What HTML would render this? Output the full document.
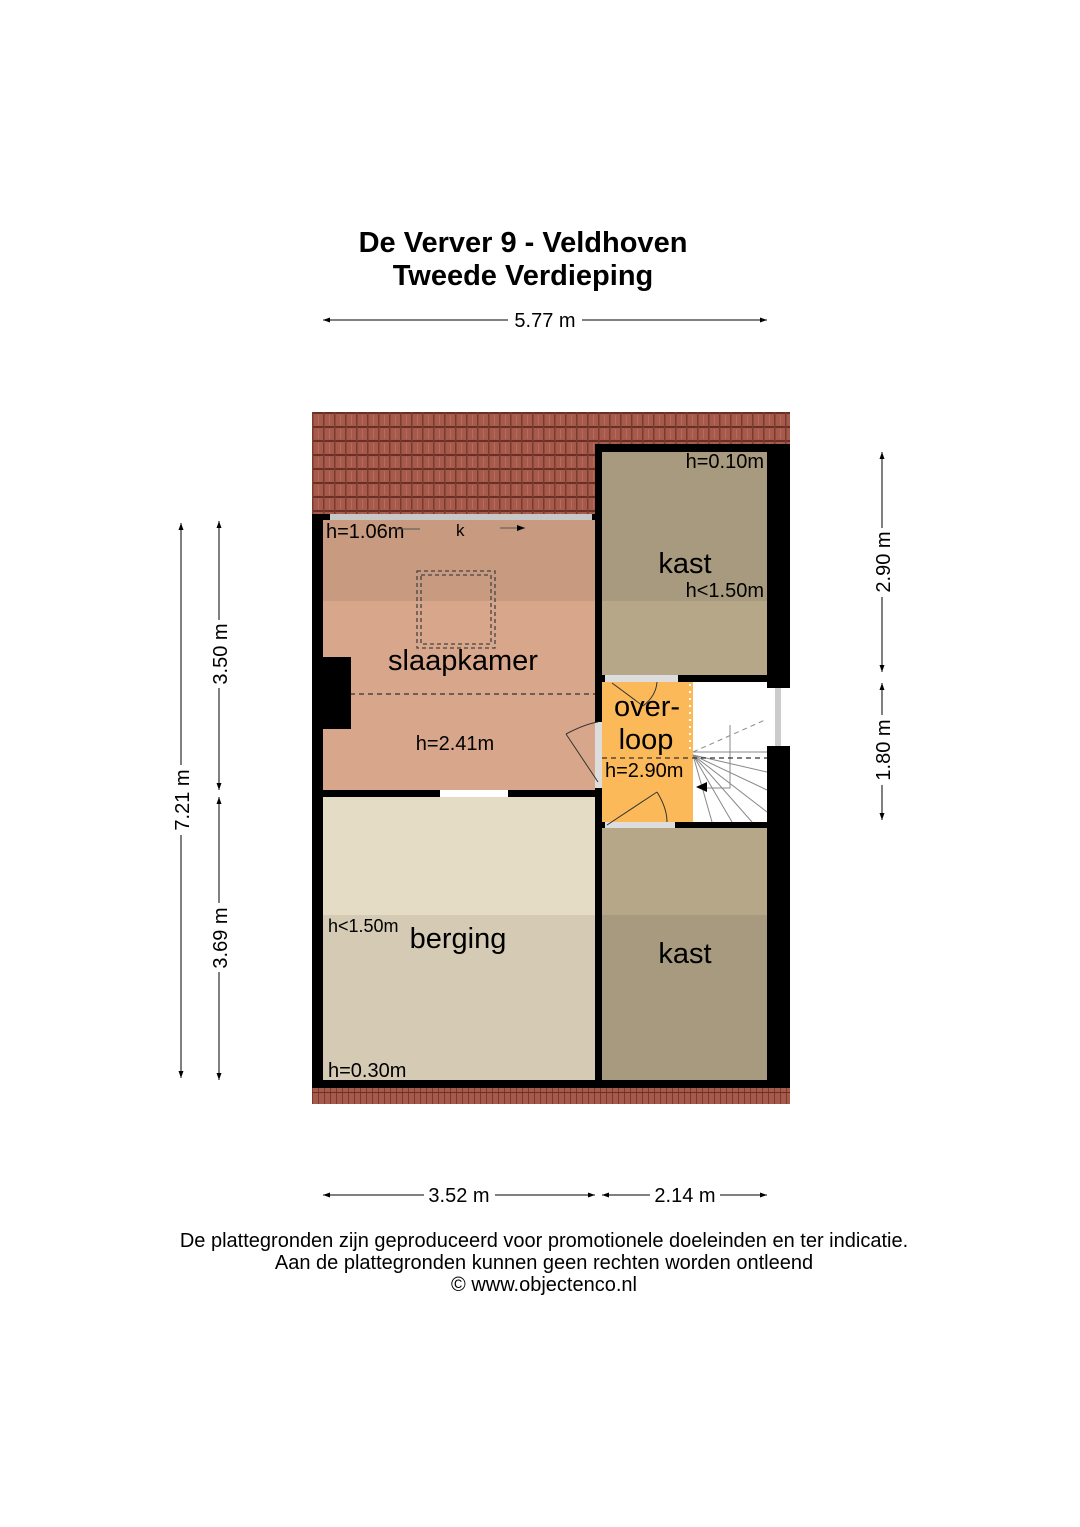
<!DOCTYPE html>
<html><head><meta charset="utf-8"><style>
html,body{margin:0;padding:0;background:#fff;}
svg{display:block;}
text{font-family:"Liberation Sans",sans-serif;}
</style></head><body>
<svg width="1080" height="1527" viewBox="0 0 1080 1527" xmlns="http://www.w3.org/2000/svg">
<defs>
<pattern id="tile" x="312" y="412" width="11" height="14" patternUnits="userSpaceOnUse">
<rect width="11" height="14" fill="#a65a4b"/>
<rect x="0" y="0" width="11" height="2" fill="#6a3025"/>
<rect x="0" y="0" width="1.5" height="14" fill="#7a3a2e"/>
<rect x="6" y="3" width="1" height="10" fill="#b86b5a"/>
</pattern>
<pattern id="tile2" x="312" y="1088" width="6" height="16" patternUnits="userSpaceOnUse">
<rect width="6" height="16" fill="#a65a4b"/>
<rect x="0" y="0" width="1" height="16" fill="#7a3a2e"/>
<rect x="0" y="4" width="6" height="1" fill="#6a3025"/>
</pattern>
<marker id="ar" markerWidth="8" markerHeight="6" refX="8" refY="3" orient="auto"><path d="M0,0 L8,3 L0,6z" fill="#000"/></marker>
</defs>

<text x="523" y="252" font-size="29" font-weight="bold" text-anchor="middle">De Verver 9 - Veldhoven</text>
<text x="523" y="285" font-size="29" font-weight="bold" text-anchor="middle">Tweede Verdieping</text>

<rect x="312" y="412" width="478" height="104" fill="url(#tile)"/>
<rect x="312" y="1088" width="478" height="16" fill="url(#tile2)"/>

<rect x="312" y="514" width="284" height="574" fill="#000"/>
<rect x="595" y="444" width="195" height="644" fill="#000"/>

<rect x="323" y="520" width="272" height="81" fill="#c89a7f"/>
<rect x="323" y="601" width="272" height="189" fill="#d8a78b"/>
<rect x="330" y="514" width="262" height="6" fill="#c8c8c8"/>
<line x1="323" y1="694" x2="595" y2="694" stroke="#333" stroke-width="1.3" stroke-dasharray="5,4"/>
<rect x="323" y="657" width="28" height="72" fill="#000"/>
<rect x="417" y="571" width="78" height="77" fill="none" stroke="#444" stroke-width="1.3" stroke-dasharray="4,3"/>
<rect x="421" y="575" width="70" height="69" fill="none" stroke="#444" stroke-width="1.3" stroke-dasharray="4,3"/>
<text x="326" y="538" font-size="20">h=1.06m</text>
<line x1="395" y1="529" x2="420" y2="529" stroke="#555" stroke-width="1"/>
<text x="456" y="536" font-size="17">k</text>
<line x1="500" y1="528" x2="525" y2="528" stroke="#555" stroke-width="1" marker-end="url(#ar)"/>
<text x="463" y="670" font-size="29" text-anchor="middle">slaapkamer</text>
<text x="455" y="750" font-size="20" text-anchor="middle">h=2.41m</text>
<rect x="595" y="722" width="7" height="66" fill="#ddd"/>
<path d="M598,782 L566,734" fill="none" stroke="#333" stroke-width="1"/>
<path d="M566,734 Q585,724 598,722" fill="none" stroke="#333" stroke-width="1"/>
<rect x="440" y="790" width="68" height="7" fill="#fff"/>

<rect x="323" y="797" width="272" height="118" fill="#e5dcc5"/>
<rect x="323" y="915" width="272" height="165" fill="#d5cbb4"/>
<text x="328" y="932" font-size="18">h&lt;1.50m</text>
<text x="458" y="948" font-size="29" text-anchor="middle">berging</text>
<text x="328" y="1077" font-size="20">h=0.30m</text>

<rect x="602" y="452" width="165" height="149" fill="#a89a7e"/>
<rect x="602" y="601" width="165" height="74" fill="#b6a788"/>
<text x="764" y="468" font-size="20" text-anchor="end">h=0.10m</text>
<text x="685" y="573" font-size="29" text-anchor="middle">kast</text>
<text x="764" y="597" font-size="20" text-anchor="end">h&lt;1.50m</text>

<rect x="602" y="682" width="91" height="140" fill="#fbb95a"/>
<rect x="693" y="682" width="74" height="140" fill="#fff"/>
<rect x="767" y="688" width="23" height="58" fill="#fff"/>
<rect x="775" y="688" width="6" height="58" fill="#ccc"/>
<rect x="605" y="675" width="73" height="7" fill="#ddd"/>
<path d="M612,683 L643,706" fill="none" stroke="#333" stroke-width="1"/>
<path d="M643,706 Q656,696 657,682" fill="none" stroke="#333" stroke-width="1"/>
<rect x="605" y="822" width="70" height="6" fill="#ddd"/>
<path d="M607,825 L657,792" fill="none" stroke="#333" stroke-width="1"/>
<path d="M657,792 Q667,808 667,822" fill="none" stroke="#333" stroke-width="1"/>
<line x1="690" y1="684" x2="690" y2="752" stroke="#fff" stroke-width="2" stroke-dasharray="2,5"/>
<g stroke="#888" stroke-width="1" fill="none">
<line x1="693" y1="752" x2="767" y2="752"/>
<line x1="693" y1="752" x2="765" y2="720" stroke-dasharray="5,4"/>
<path d="M730,725 L730,788 L700,788"/>
<line x1="693" y1="755" x2="767" y2="790"/>
<line x1="693" y1="755" x2="767" y2="812"/>
<line x1="693" y1="755" x2="752" y2="822"/>
<line x1="693" y1="755" x2="732" y2="822"/>
<line x1="693" y1="755" x2="712" y2="822"/>
<line x1="693" y1="755" x2="767" y2="772"/>
</g>
<path d="M696,787 L707,782 L707,792z" fill="#000"/>
<line x1="602" y1="758" x2="767" y2="758" stroke="#333" stroke-width="1.3" stroke-dasharray="5,4"/>
<text x="647" y="716" font-size="29" text-anchor="middle">over-</text>
<text x="646" y="749" font-size="29" text-anchor="middle">loop</text>
<text x="605" y="777" font-size="20">h=2.90m</text>

<rect x="602" y="828" width="165" height="87" fill="#b6a788"/>
<rect x="602" y="915" width="165" height="165" fill="#a89a7e"/>
<text x="685" y="963" font-size="29" text-anchor="middle">kast</text>

<g stroke="#000" stroke-width="1">
<line x1="323" y1="320" x2="508" y2="320"/><line x1="582" y1="320" x2="767" y2="320"/>
<line x1="181" y1="523" x2="181" y2="765"/><line x1="181" y1="835" x2="181" y2="1078"/>
<line x1="219" y1="521" x2="219" y2="620"/><line x1="219" y1="688" x2="219" y2="790"/>
<line x1="219" y1="797" x2="219" y2="903"/><line x1="219" y1="972" x2="219" y2="1080"/>
<line x1="882" y1="452" x2="882" y2="528"/><line x1="882" y1="597" x2="882" y2="672"/>
<line x1="882" y1="683" x2="882" y2="715"/><line x1="882" y1="785" x2="882" y2="820"/>
<line x1="323" y1="1195" x2="424" y2="1195"/><line x1="495" y1="1195" x2="595" y2="1195"/>
<line x1="602" y1="1195" x2="650" y2="1195"/><line x1="720" y1="1195" x2="767" y2="1195"/>
</g>
<g fill="#000">
<path d="M323,320 l7,-2.5 v5z"/><path d="M767,320 l-7,-2.5 v5z"/>
<path d="M323,1195 l7,-2.5 v5z"/><path d="M595,1195 l-7,-2.5 v5z"/>
<path d="M602,1195 l7,-2.5 v5z"/><path d="M767,1195 l-7,-2.5 v5z"/>
<path d="M181,523 l-2.5,7 h5z"/><path d="M181,1078 l-2.5,-7 h5z"/>
<path d="M219,521 l-2.5,7 h5z"/><path d="M219,790 l-2.5,-7 h5z"/>
<path d="M219,797 l-2.5,7 h5z"/><path d="M219,1080 l-2.5,-7 h5z"/>
<path d="M882,452 l-2.5,7 h5z"/><path d="M882,672 l-2.5,-7 h5z"/>
<path d="M882,683 l-2.5,7 h5z"/><path d="M882,820 l-2.5,-7 h5z"/>
</g>
<g font-size="20">
<text x="545" y="327" text-anchor="middle">5.77 m</text>
<text x="459" y="1202" text-anchor="middle">3.52 m</text>
<text x="685" y="1202" text-anchor="middle">2.14 m</text>
<text transform="translate(189,800) rotate(-90)" text-anchor="middle">7.21 m</text>
<text transform="translate(227,654) rotate(-90)" text-anchor="middle">3.50 m</text>
<text transform="translate(227,938) rotate(-90)" text-anchor="middle">3.69 m</text>
<text transform="translate(890,562) rotate(-90)" text-anchor="middle">2.90 m</text>
<text transform="translate(890,750) rotate(-90)" text-anchor="middle">1.80 m</text>
</g>
<g font-size="20" text-anchor="middle">
<text x="544" y="1247">De plattegronden zijn geproduceerd voor promotionele doeleinden en ter indicatie.</text>
<text x="544" y="1269">Aan de plattegronden kunnen geen rechten worden ontleend</text>
<text x="544" y="1291">© www.objectenco.nl</text>
</g>
</svg>
</body></html>
